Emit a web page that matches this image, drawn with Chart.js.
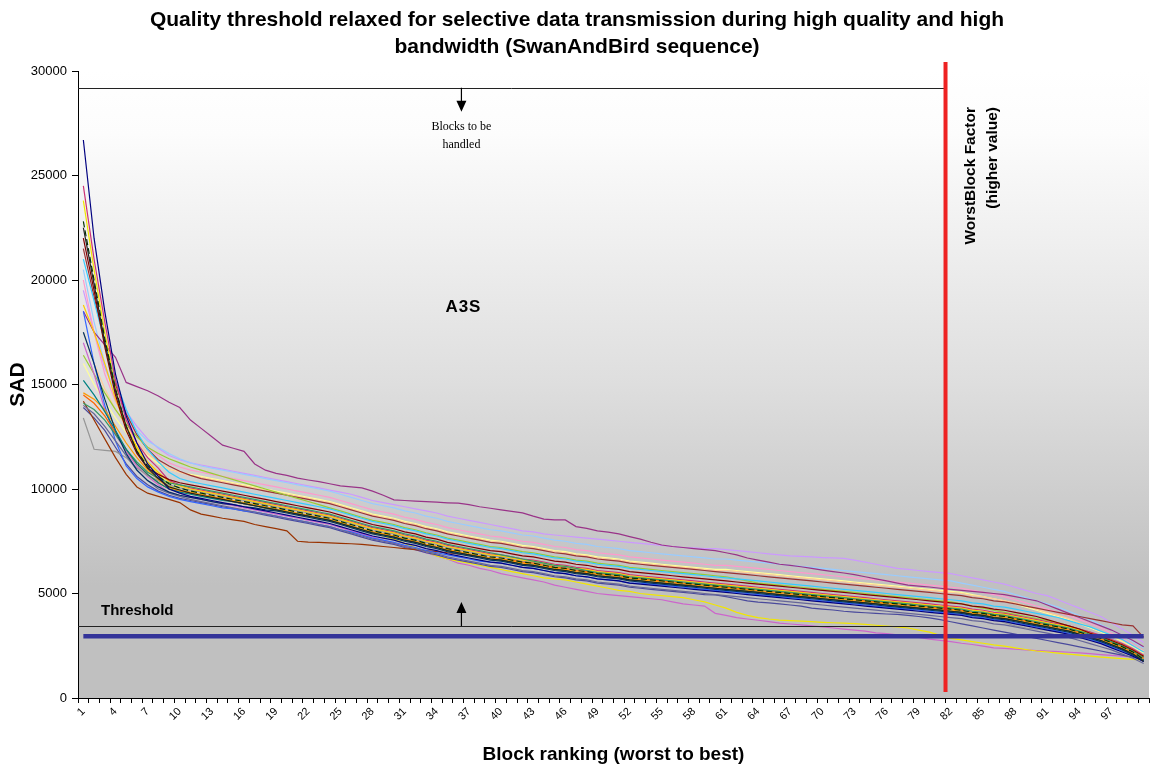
<!DOCTYPE html>
<html>
<head>
<meta charset="utf-8">
<script src="https://cdn.jsdelivr.net/npm/chart.js@4.4.1/dist/chart.umd.min.js"></script>
<style>
    body { margin: 0; background: #fff; }
    canvas { display: block; }
</style>
</head>
<body>
<canvas id="chart" width="1155" height="770"></canvas>
<script>
const titleLines = ['Quality threshold relaxed for selective data transmission during high quality and high', 'bandwidth (SwanAndBird sequence)'];
const blocks = Array.from({ length: 100 }, (_, i) => String(i + 1));
const yTicks = [0, 5000, 10000, 15000, 20000, 25000, 30000];

// reference lines / annotations (SAD values, block position)
const topLineValue = 29200;
const thresholdLineValue = 3450;
const thresholdValue = 2950;
const worstBlockPos = 80.5;   // between blocks 81 and 82

const navySeries = [26700,22000,18500,15500,13500,12200,11200,10600,10000,9800,9650,9550,9450,9350,9250,9150,9050,8950,8850,8750,8650,8550,8450,8350,8200,8050,7900,7750,7650,7550,7400,7300,7150,7050,6900,6800,6700,6600,6500,6450,6350,6250,6200,6100,6000,5950,5850,5800,5700,5650,5600,5500,5450,5400,5350,5300,5250,5200,5150,5100,5050,5000,4950,4900,4850,4800,4750,4700,4650,4600,4550,4500,4450,4400,4350,4300,4250,4200,4150,4100,4050,4000,3950,3850,3800,3700,3650,3550,3450,3350,3250,3150,3050,2900,2750,2600,2400,2200,2000,1750];
const magentaSeries = [24500,21000,18000,15200,13300,12200,11500,11000,10400,10200,10050,9950,9850,9750,9650,9550,9450,9350,9250,9150,9050,8950,8850,8750,8600,8450,8300,8150,8050,7950,7800,7700,7550,7450,7300,7200,7100,7000,6900,6850,6750,6650,6600,6500,6400,6350,6250,6200,6100,6050,6000,5900,5850,5800,5750,5700,5650,5600,5550,5500,5450,5400,5350,5300,5250,5200,5150,5100,5050,5000,4950,4900,4850,4800,4750,4700,4650,4600,4550,4500,4450,4400,4350,4250,4200,4100,4050,3950,3850,3750,3650,3550,3450,3300,3150,3000,2800,2600,2350,2050];
const yellowSeries = [23800,20500,17500,14800,13000,11900,11200,10700,10150,9950,9800,9700,9600,9500,9400,9300,9200,9100,9000,8900,8800,8700,8600,8500,8350,8200,8050,7900,7750,7600,7400,7200,7000,6800,6650,6550,6450,6350,6250,6150,6050,5950,5850,5750,5700,5650,5550,5450,5350,5250,5150,5100,5000,4950,4900,4850,4800,4700,4600,4450,4300,4100,3950,3850,3780,3730,3700,3680,3650,3620,3600,3580,3560,3520,3480,3440,3400,3350,3250,3150,3000,2850,2780,2700,2620,2540,2480,2400,2320,2250,2200,2150,2100,2050,2000,1960,1920,1880,1850,1820];
const orchidSeries = [17000,15500,13800,12600,11800,11100,10600,10200,9850,9700,9600,9500,9400,9300,9200,9100,9000,8900,8800,8700,8600,8500,8400,8300,8150,8000,7850,7700,7550,7400,7250,7100,6950,6800,6650,6450,6350,6200,6100,5950,5850,5750,5650,5550,5400,5300,5200,5100,5000,4950,4900,4850,4800,4750,4700,4600,4500,4450,4400,4050,3950,3850,3780,3720,3650,3580,3540,3500,3450,3400,3350,3300,3250,3200,3120,3080,3020,2960,2900,2820,2760,2700,2620,2560,2480,2400,2370,2340,2300,2270,2250,2220,2190,2160,2120,2080,2040,2000,1960,1910];
const purpleSeries = [18500,17500,16900,16300,15100,14900,14700,14450,14150,13900,13300,12900,12500,12100,11950,11800,11200,10900,10750,10650,10520,10430,10350,10250,10150,10100,10050,9900,9700,9480,9450,9420,9400,9370,9340,9320,9250,9150,9080,9000,8930,8860,8700,8560,8520,8520,8200,8120,8000,7940,7850,7720,7600,7450,7320,7250,7200,7150,7100,7050,6950,6850,6700,6600,6500,6400,6350,6280,6200,6120,6050,5980,5900,5800,5700,5600,5500,5400,5350,5310,5250,5200,5150,5100,5050,5000,4950,4850,4750,4650,4450,4250,4050,3850,3650,3450,3250,3000,2750,2450];
const lightBlueSeries = [20500,18000,16000,14500,13500,12800,12300,12000,11700,11450,11250,11100,11000,10900,10800,10700,10600,10500,10400,10300,10200,10100,10000,9900,9750,9600,9450,9300,9200,9100,8950,8850,8700,8600,8450,8350,8250,8150,8050,8000,7900,7800,7750,7650,7550,7500,7400,7350,7250,7200,7150,7050,7000,6950,6900,6850,6800,6750,6700,6650,6650,6600,6550,6500,6450,6400,6350,6300,6250,6200,6150,6100,6050,6000,5950,5900,5850,5800,5750,5700,5650,5600,5500,5400,5300,5200,5100,4950,4800,4650,4500,4350,4150,3950,3750,3500,3250,3000,2700,2400];
const pinkSeries = [20000,17500,15500,14200,13300,12600,12000,11600,11250,11050,10900,10800,10700,10600,10500,10400,10300,10200,10100,10000,9900,9800,9700,9600,9450,9300,9150,9000,8900,8800,8650,8550,8400,8300,8150,8050,7950,7850,7750,7700,7600,7500,7450,7350,7250,7200,7100,7050,6950,6900,6850,6750,6700,6650,6600,6550,6500,6450,6400,6350,6350,6300,6250,6200,6150,6100,6050,6000,5950,5900,5850,5800,5750,5700,5650,5600,5550,5500,5450,5400,5350,5300,5250,5150,5050,4950,4850,4700,4550,4400,4250,4100,3950,3750,3550,3350,3100,2850,2550,2250];
const lavenderSeries = [19500,17500,15800,14600,13700,13000,12400,11950,11600,11400,11250,11150,11050,10950,10850,10750,10650,10550,10450,10350,10250,10150,10050,9950,9850,9750,9600,9450,9350,9250,9150,9050,8950,8850,8700,8600,8500,8400,8300,8200,8100,8000,7950,7850,7800,7750,7700,7650,7600,7550,7500,7450,7400,7350,7300,7250,7200,7180,7150,7150,7100,7050,7000,6950,6900,6850,6800,6780,6750,6720,6700,6680,6600,6500,6400,6300,6200,6150,6100,6050,6000,5950,5850,5750,5650,5550,5450,5300,5150,5000,4900,4700,4500,4300,4100,3900,3600,3300,3000,2650];
const lightOrangeSeries = [17500,16000,14800,13800,13000,12300,11700,11300,10950,10800,10650,10550,10450,10350,10250,10150,10050,9950,9850,9750,9650,9550,9450,9350,9200,9050,8900,8750,8650,8550,8400,8300,8150,8050,7900,7800,7700,7600,7500,7450,7350,7250,7200,7100,7000,6950,6850,6800,6700,6650,6600,6500,6450,6400,6350,6300,6250,6200,6150,6100,6100,6050,6000,5950,5900,5850,5800,5750,5700,5650,5600,5550,5500,5450,5400,5350,5300,5250,5200,5150,5100,5050,5000,4900,4850,4750,4650,4550,4400,4250,4100,3950,3800,3600,3400,3200,3000,2750,2500,2250];
const lightYellowSeries = [16000,15000,14200,13400,12700,12100,11600,11200,10950,10800,10700,10600,10500,10400,10300,10200,10100,10000,9900,9800,9700,9600,9500,9400,9250,9100,8950,8800,8700,8600,8450,8350,8200,8100,7950,7850,7750,7650,7550,7500,7400,7300,7250,7150,7050,7000,6900,6850,6750,6700,6650,6550,6500,6450,6400,6350,6300,6250,6200,6150,6150,6100,6050,6000,5950,5900,5850,5800,5750,5700,5650,5600,5550,5500,5450,5400,5350,5300,5250,5200,5150,5100,5050,4950,4850,4750,4650,4500,4350,4200,4050,3900,3750,3550,3350,3150,2950,2700,2450,2150];
const cyanSeries = [21000,19000,17000,15200,13800,12700,11900,11300,10800,10500,10350,10250,10150,10050,9950,9850,9750,9650,9550,9450,9350,9250,9150,9050,8900,8750,8600,8450,8350,8250,8100,8000,7850,7750,7600,7500,7400,7300,7200,7150,7050,6950,6900,6800,6700,6650,6550,6500,6400,6350,6300,6200,6150,6100,6050,6000,5950,5900,5850,5800,5750,5700,5650,5600,5550,5500,5450,5400,5350,5300,5250,5200,5150,5100,5050,5000,4950,4900,4850,4800,4750,4700,4650,4550,4500,4400,4350,4250,4150,4050,3950,3850,3700,3550,3400,3200,3000,2800,2500,2200];
const greenSeries = [16400,15500,14600,13800,13100,12500,12000,11700,11450,11250,11050,10900,10750,10600,10450,10300,10150,10000,9850,9700,9550,9400,9250,9100,8950,8800,8650,8500,8400,8300,8150,8050,7900,7800,7650,7550,7450,7350,7250,7200,7100,7000,6950,6850,6750,6700,6600,6550,6450,6400,6350,6250,6200,6150,6100,6050,6000,5950,5900,5850,5800,5700,5600,5500,5450,5400,5350,5300,5250,5200,5150,5100,5050,5000,4950,4900,4850,4800,4750,4700,4650,4600,4500,4400,4300,4200,4100,4000,3900,3800,3700,3600,3450,3300,3150,2950,2750,2550,2300,2000];
const maroonSeries = [22000,19500,16800,14500,12800,11700,11000,10700,10450,10300,10200,10100,10000,9900,9800,9700,9600,9500,9400,9300,9200,9100,9000,8900,8750,8600,8450,8300,8200,8100,7950,7850,7700,7600,7450,7350,7250,7150,7050,7000,6900,6800,6750,6650,6550,6500,6400,6350,6250,6200,6150,6050,6000,5950,5900,5850,5800,5750,5700,5650,5600,5550,5500,5450,5400,5350,5300,5250,5200,5150,5100,5050,5000,4950,4900,4850,4800,4750,4700,4650,4600,4550,4500,4400,4350,4250,4200,4100,4000,3900,3750,3600,3450,3300,3100,2950,2750,2550,2300,2000];
const tealSeries = [15200,14500,13700,12800,11900,11200,10700,10300,10000,9850,9750,9650,9550,9450,9400,9300,9200,9100,9000,8900,8800,8700,8600,8500,8350,8200,8050,7900,7800,7700,7550,7450,7300,7200,7050,6950,6850,6750,6650,6600,6500,6400,6350,6250,6150,6100,6000,5950,5850,5800,5750,5650,5600,5550,5500,5450,5400,5350,5300,5250,5200,5150,5100,5050,5000,4950,4900,4850,4800,4750,4700,4650,4600,4550,4500,4450,4400,4350,4300,4250,4200,4150,4100,4000,3950,3850,3800,3700,3600,3500,3400,3300,3200,3050,2900,2750,2550,2350,2100,1800];
const blueSeries = [18500,16000,14000,12300,11100,10500,10100,9850,9650,9500,9400,9300,9200,9100,9050,8950,8900,8800,8700,8600,8500,8400,8300,8200,8050,7950,7800,7650,7550,7450,7300,7200,7050,6950,6850,6750,6650,6550,6500,6450,6350,6250,6200,6100,6000,5950,5850,5800,5700,5650,5600,5500,5500,5450,5400,5350,5300,5250,5200,5150,5100,5050,5000,4950,4900,4850,4800,4750,4700,4650,4600,4550,4500,4450,4400,4350,4300,4250,4200,4150,4100,4050,4000,3900,3850,3750,3700,3600,3500,3400,3300,3200,3100,2950,2800,2650,2450,2250,2000,1750];
const goldSeries = [18800,17500,16000,14300,13000,12000,11300,10800,10350,10150,10000,9900,9800,9700,9600,9500,9400,9300,9200,9100,9000,8900,8800,8700,8550,8400,8250,8100,8000,7900,7750,7650,7500,7400,7250,7150,7050,6950,6850,6800,6700,6600,6550,6450,6350,6300,6200,6150,6050,6000,5950,5850,5800,5750,5700,5650,5600,5550,5500,5450,5400,5350,5300,5250,5200,5150,5100,5050,5000,4950,4900,4850,4800,4750,4700,4650,4600,4550,4500,4450,4400,4350,4300,4200,4150,4050,4000,3900,3800,3700,3600,3500,3400,3250,3100,2950,2750,2550,2300,2000];
const orangeSeries = [14600,14300,13800,13000,12200,11500,10900,10450,10050,9950,9850,9750,9650,9550,9450,9350,9250,9150,9050,8950,8850,8750,8650,8550,8400,8250,8100,7950,7850,7750,7600,7500,7350,7250,7100,7000,6900,6800,6700,6650,6550,6450,6400,6300,6200,6150,6050,6000,5900,5850,5800,5700,5650,5600,5550,5500,5450,5400,5350,5300,5250,5200,5150,5100,5050,5000,4950,4900,4850,4800,4750,4700,4650,4600,4550,4500,4450,4400,4350,4300,4250,4200,4150,4050,4000,3900,3850,3750,3650,3550,3450,3350,3250,3100,2950,2800,2600,2400,2150,1850];
const darkOrangeSeries = [14500,14100,13500,12700,11900,11200,10700,10300,10000,9900,9800,9700,9600,9500,9400,9300,9200,9100,9000,8900,8800,8700,8600,8500,8350,8200,8050,7950,7850,7750,7600,7500,7350,7250,7100,7000,6900,6800,6700,6650,6600,6500,6450,6350,6250,6200,6100,6050,5950,5900,5850,5750,5700,5650,5600,5550,5500,5450,5400,5350,5300,5250,5200,5150,5100,5050,5000,4950,4900,4850,4800,4750,4700,4650,4600,4550,4500,4450,4400,4350,4300,4250,4200,4100,4050,3950,3900,3800,3700,3600,3500,3400,3300,3150,3000,2850,2650,2450,2200,1900];
const slateSeries = [14000,13600,13000,12300,11600,10900,10400,10000,9800,9650,9500,9400,9300,9200,9100,9000,8900,8800,8700,8600,8500,8400,8300,8200,8050,7900,7750,7600,7500,7400,7250,7150,7000,6900,6750,6650,6550,6450,6350,6300,6200,6100,6050,5950,5850,5800,5700,5650,5550,5500,5450,5350,5300,5250,5200,5150,5100,5050,5000,4950,4900,4850,4800,4750,4700,4650,4600,4550,4500,4450,4400,4350,4300,4250,4200,4150,4100,4050,4000,3950,3900,3850,3800,3700,3650,3550,3500,3400,3300,3200,3100,3000,2900,2750,2600,2450,2300,2100,1900,1650];
const graySeries = [13400,11900,11850,11800,11500,11000,10650,10400,10200,10050,9950,9850,9750,9650,9550,9450,9350,9250,9150,9050,8950,8850,8750,8650,8500,8350,8200,8050,7950,7850,7700,7600,7450,7350,7200,7100,7000,6900,6800,6750,6650,6550,6500,6400,6300,6250,6150,6100,6000,5950,5900,5800,5750,5700,5650,5600,5550,5500,5450,5400,5350,5300,5250,5200,5150,5100,5050,5000,4950,4900,4850,4800,4750,4700,4650,4600,4550,4500,4450,4400,4350,4300,4200,4050,3900,3750,3600,3450,3350,3300,3250,3150,3050,2950,2800,2650,2500,2300,2100,1850];
const darkBlueSeries = [17500,16000,14300,12800,11700,10900,10400,10100,9850,9700,9600,9500,9400,9300,9250,9150,9100,9000,8950,8850,8750,8650,8550,8450,8300,8150,8000,7850,7750,7650,7500,7400,7250,7150,7000,6900,6800,6700,6600,6550,6450,6350,6300,6200,6100,6050,5950,5900,5800,5750,5700,5600,5550,5500,5450,5400,5350,5300,5250,5200,5150,5100,5050,5000,4950,4900,4850,4800,4750,4700,4650,4600,4550,4500,4450,4400,4350,4300,4250,4200,4150,4100,4050,3950,3900,3800,3750,3650,3550,3450,3350,3250,3150,3000,2850,2700,2500,2300,2050,1800];
const seaGreenSeries = [14100,13800,13300,12600,11900,11300,10800,10500,10300,10200,10100,10000,9900,9800,9700,9600,9500,9400,9300,9200,9100,9000,8900,8800,8650,8500,8350,8200,8100,8000,7850,7750,7600,7500,7350,7250,7150,7050,6950,6850,6750,6650,6550,6450,6350,6300,6200,6100,6000,5950,5900,5800,5750,5700,5650,5600,5550,5500,5450,5400,5350,5300,5250,5200,5150,5100,5050,5000,4950,4900,4850,4800,4750,4700,4650,4600,4550,4500,4450,4400,4350,4300,4250,4150,4100,4000,3950,3850,3750,3650,3550,3450,3350,3200,3050,2900,2700,2500,2250,1950];
const brownSeries = [14200,13300,12400,11500,10700,10100,9800,9650,9500,9350,9000,8800,8700,8600,8520,8450,8300,8200,8100,8000,7500,7460,7450,7420,7400,7380,7350,7300,7250,7200,7150,7100,7050,7000,6950,6900,6850,6750,6650,6600,6500,6400,6350,6250,6150,6100,6000,5950,5850,5800,5750,5650,5600,5550,5500,5450,5400,5350,5300,5250,5200,5150,5100,5050,5000,4950,4900,4850,4800,4750,4700,4650,4600,4550,4500,4450,4400,4350,4300,4250,4200,4150,4100,4000,3950,3850,3800,3700,3600,3500,3400,3300,3200,3050,2900,2750,2550,2350,2100,1800];
const slateBlueSeries = [13900,13400,12800,12000,11200,10600,10200,9900,9700,9550,9450,9350,9250,9150,9050,8950,8850,8750,8650,8550,8450,8350,8250,8150,8000,7850,7700,7550,7450,7350,7200,7100,6950,6850,6700,6600,6500,6400,6300,6250,6150,6050,6000,5900,5800,5750,5650,5600,5500,5450,5400,5300,5250,5200,5150,5100,5050,5000,4950,4930,4850,4750,4650,4590,4550,4500,4450,4400,4300,4250,4210,4150,4110,4080,4050,4020,4000,3950,3900,3830,3750,3650,3550,3450,3350,3250,3150,3060,2950,2850,2750,2650,2550,2450,2350,2250,2150,2050,1950,1850];
const blackSeries = [22500,19800,17000,14700,13000,11800,11000,10500,10100,9950,9800,9700,9600,9500,9400,9300,9200,9100,9000,8900,8800,8700,8600,8500,8350,8200,8050,7900,7800,7700,7550,7450,7300,7200,7050,6950,6850,6750,6650,6600,6500,6400,6350,6250,6150,6100,6000,5950,5850,5800,5750,5650,5600,5550,5500,5450,5400,5350,5300,5250,5200,5150,5100,5050,5000,4950,4900,4850,4800,4750,4700,4650,4600,4550,4500,4450,4400,4350,4300,4250,4200,4150,4100,4000,3950,3850,3800,3700,3600,3500,3400,3300,3200,3050,2900,2750,2550,2350,2100,1750];
const darkGreenSeries = [22800,20000,17200,14800,13000,11800,11100,10600,10250,10050,9900,9800,9700,9600,9500,9400,9300,9200,9100,9000,8900,8800,8700,8600,8450,8300,8150,8000,7900,7800,7650,7550,7400,7300,7150,7050,6950,6850,6750,6700,6600,6500,6450,6350,6250,6200,6100,6050,5950,5900,5850,5750,5700,5650,5600,5550,5500,5450,5400,5350,5300,5250,5200,5150,5100,5050,5000,4950,4900,4850,4800,4750,4700,4650,4600,4550,4500,4450,4400,4350,4300,4250,4200,4100,4050,3950,3900,3800,3700,3600,3500,3400,3300,3150,3000,2850,2650,2450,2200,1850];
const darkRedSeries = [21500,19200,17000,15000,13600,12600,11900,11400,11100,10850,10650,10500,10400,10300,10200,10100,10000,9900,9800,9700,9600,9500,9400,9300,9150,9000,8850,8700,8600,8500,8350,8250,8100,8000,7850,7750,7650,7550,7450,7400,7300,7200,7150,7050,6950,6900,6800,6750,6650,6600,6550,6450,6400,6350,6300,6250,6200,6150,6100,6050,6000,5950,5900,5850,5800,5750,5700,5650,5600,5550,5500,5450,5400,5350,5300,5250,5200,5150,5100,5050,5000,4950,4900,4800,4750,4650,4600,4500,4400,4300,4200,4100,4000,3900,3800,3700,3600,3500,3450,2900];

// first entries are drawn on top
const seriesList = [
    { data: blackSeries, color: '#222222' },
    { data: navySeries, color: '#000080' },
    { data: darkGreenSeries, color: '#003300', dash: [6, 3] },
    { data: maroonSeries, color: '#800000' },
    { data: tealSeries, color: '#008080' },
    { data: darkBlueSeries, color: '#003366' },
    { data: seaGreenSeries, color: '#339966' },
    { data: slateSeries, color: '#666699' },
    { data: orangeSeries, color: '#ff9900' },
    { data: darkOrangeSeries, color: '#ff6600' },
    { data: blueSeries, color: '#3366ff' },
    { data: goldSeries, color: '#ffcc00' },
    { data: magentaSeries, color: '#cc3377' },
    { data: brownSeries, color: '#993300' },
    { data: graySeries, color: '#969696' },
    { data: slateBlueSeries, color: '#4a4a9c' },
    { data: yellowSeries, color: '#f2e600' },
    { data: orchidSeries, color: '#cc66cc' },
    { data: cyanSeries, color: '#33ccff' },
    { data: greenSeries, color: '#99cc33' },
    { data: darkRedSeries, color: '#993333' },
    { data: purpleSeries, color: '#993388' },
    { data: lightOrangeSeries, color: '#ffcc99' },
    { data: lightYellowSeries, color: '#ffff99' },
    { data: pinkSeries, color: '#ff99cc' },
    { data: lightBlueSeries, color: '#99ccff' },
    { data: lavenderSeries, color: '#cc99ff' }
];

const sansFamily = '"Liberation Sans", Arial, sans-serif';
const serifFamily = '"Liberation Serif", "Times New Roman", serif';

const plotDecor = {
    id: 'plotDecor',
    beforeDraw(chart) {
        const { ctx, chartArea: a } = chart;
        const g = ctx.createLinearGradient(0, a.top, 0, a.bottom);
        g.addColorStop(0, '#ffffff');
        g.addColorStop(0.1, '#fcfcfc');
        g.addColorStop(0.5, '#dedede');
        g.addColorStop(0.82, '#c0c0c0');
        g.addColorStop(1, '#c0c0c0');
        ctx.save();
        ctx.fillStyle = g;
        ctx.fillRect(a.left, a.top, a.right - a.left, a.bottom - a.top);
        ctx.restore();
    },
    afterDatasetsDraw(chart) {
        const { ctx, chartArea: a, scales: { x, y } } = chart;
        const redX = x.getPixelForValue(worstBlockPos);
        const arrowX = x.getPixelForValue(35.3);
        const topY = y.getPixelForValue(topLineValue);
        const thrY = y.getPixelForValue(thresholdLineValue);

        ctx.save();
        // thin black reference lines
        ctx.strokeStyle = '#222';
        ctx.lineWidth = 1;
        ctx.beginPath();
        ctx.moveTo(a.left, Math.round(topY) + 0.5);
        ctx.lineTo(redX, Math.round(topY) + 0.5);
        ctx.moveTo(a.left, Math.round(thrY) + 0.5);
        ctx.lineTo(redX, Math.round(thrY) + 0.5);
        ctx.stroke();

        // threshold line
        ctx.strokeStyle = '#333399';
        ctx.lineWidth = 4.5;
        ctx.beginPath();
        ctx.moveTo(x.getPixelForValue(0), y.getPixelForValue(thresholdValue));
        ctx.lineTo(x.getPixelForValue(99), y.getPixelForValue(thresholdValue));
        ctx.stroke();

        // arrows
        ctx.strokeStyle = '#000';
        ctx.fillStyle = '#000';
        ctx.lineWidth = 1.2;
        ctx.beginPath();
        ctx.moveTo(arrowX, topY);
        ctx.lineTo(arrowX, topY + 16);
        ctx.moveTo(arrowX, thrY);
        ctx.lineTo(arrowX, thrY - 16);
        ctx.stroke();
        ctx.beginPath();
        ctx.moveTo(arrowX - 5, topY + 13);
        ctx.lineTo(arrowX + 5, topY + 13);
        ctx.lineTo(arrowX, topY + 24);
        ctx.closePath();
        ctx.moveTo(arrowX - 5, thrY - 13);
        ctx.lineTo(arrowX + 5, thrY - 13);
        ctx.lineTo(arrowX, thrY - 24);
        ctx.closePath();
        ctx.fill();

        // red WorstBlock line
        ctx.strokeStyle = '#ee2222';
        ctx.lineWidth = 4;
        ctx.beginPath();
        ctx.moveTo(redX, y.getPixelForValue(30430));
        ctx.lineTo(redX, y.getPixelForValue(290));
        ctx.stroke();

        // texts
        ctx.fillStyle = '#000';
        ctx.textAlign = 'center';
        ctx.textBaseline = 'middle';
        ctx.font = '12px ' + serifFamily;
        ctx.fillText('Blocks to be', arrowX, topY + 39);
        ctx.fillText('handled', arrowX, topY + 57);
        ctx.font = 'bold 17px ' + sansFamily;
        ctx.letterSpacing = '1px';
        ctx.fillText('A3S', arrowX + 2, y.getPixelForValue(18700));
        ctx.letterSpacing = '0px';
        ctx.textAlign = 'left';
        ctx.font = 'bold 15px ' + sansFamily;
        ctx.fillText('Threshold', a.left + 23, y.getPixelForValue(4160));

        ctx.font = 'bold 15.5px ' + sansFamily;
        ctx.textAlign = 'right';
        ctx.translate(redX + 25, 107);
        ctx.rotate(-Math.PI / 2);
        ctx.fillText('WorstBlock Factor', 0, 0);
        ctx.fillText('(higher value)', 0, 22);
        ctx.restore();
    }
};

new Chart(document.getElementById('chart'), {
    type: 'line',
    data: {
        labels: blocks,
        datasets: seriesList.map(s => ({
            data: s.data,
            borderColor: s.color,
            backgroundColor: s.color,
            borderWidth: 1.2,
            borderDash: s.dash || [],
            pointRadius: 0,
            tension: 0,
            fill: false
        }))
    },
    options: {
        responsive: false,
        animation: false,
        layout: { padding: { left: 0, right: 1, top: 0, bottom: 0 } },
        plugins: {
            legend: { display: false },
            tooltip: { enabled: false },
            title: {
                display: true,
                text: titleLines,
                color: '#000',
                font: { family: sansFamily, size: 21, weight: 'bold', lineHeight: 1.3 },
                padding: { top: 6.5, bottom: 9.9 }
            }
        },
        scales: {
            x: {
                type: 'category',
                offset: true,
                grid: { offset: true, drawOnChartArea: false, color: '#000', tickLength: 5 },
                border: { color: '#000', width: 1 },
                ticks: {
                    autoSkip: false,
                    maxRotation: 45,
                    minRotation: 45,
                    color: '#000',
                    padding: 2,
                    font: { family: sansFamily, size: 11 },
                    callback: (v, i) => (i % 3 === 0 && i < 99 ? blocks[i] : '')
                },
                title: {
                    display: true,
                    text: 'Block ranking (worst to best)',
                    color: '#000',
                    font: { family: sansFamily, size: 19, weight: 'bold' },
                    padding: { top: 0, bottom: 3.6 }
                },
                afterFit: s => { s.height = 72; }
            },
            y: {
                min: 0,
                max: 30000,
                afterBuildTicks: s => { s.ticks = yTicks.map(v => ({ value: v })); },
                grid: { drawOnChartArea: false, color: '#000', tickLength: 6 },
                border: { color: '#000', width: 1 },
                ticks: {
                    color: '#000',
                    padding: 5,
                    font: { family: sansFamily, size: 13 },
                    callback: v => String(v)
                },
                title: {
                    display: true,
                    text: 'SAD',
                    color: '#000',
                    font: { family: sansFamily, size: 21, weight: 'bold' },
                    padding: { top: 5.4, bottom: 0 }
                },
                afterFit: s => { s.width = 78; }
            }
        }
    },
    plugins: [plotDecor]
});
</script>
</body>
</html>
